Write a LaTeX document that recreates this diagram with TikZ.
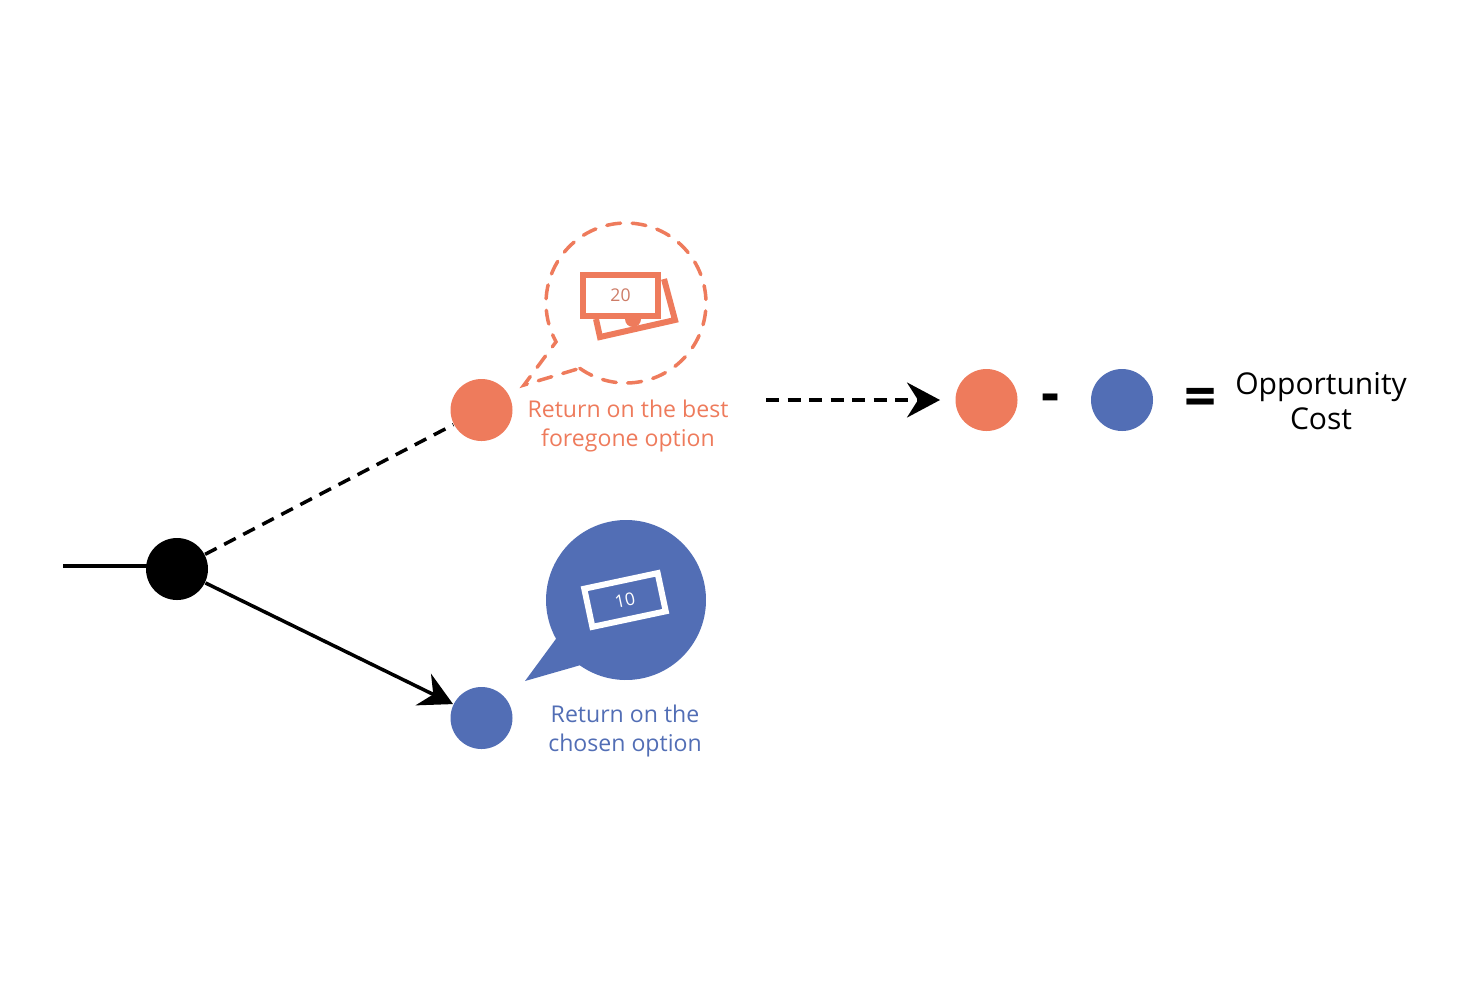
\documentclass[tikz,border=0pt]{standalone}
\usepackage{fontspec}
\setmainfont{Open Sans}
\usetikzlibrary{calc,arrows.meta}

\definecolor{foregone}{HTML}{EE7B5C}
\definecolor{chosen}{HTML}{526EB5}

\tikzset{
    dot/.style={circle,inner sep=0pt,minimum size=0.62cm,fill=#1},
    link/.style={line width=0.035cm,black},
    linkdash/.style={link,dash pattern=on 0.13cm off 0.085cm},
    bigtip/.style={-{Stealth[length=0.33cm,width=0.35cm,inset=0.11cm]}},
    caption/.style={align=center,font=\fontsize{6.57pt}{8pt}\selectfont,text=#1},
}

\begin{document}
\begin{tikzpicture}

    % Fix the page
    \useasboundingbox (0,0) rectangle (14.7,9.8);

    % The decision dot and the two options
    \node[dot=black] (start) at (1.77,4.11) {};
    \node[dot=foregone] (best) at (4.815,5.70) {};
    \node[dot=chosen] (pick) at (4.815,2.62) {};

    % Free ends of the connectors
    \coordinate (lead) at (0.63,4.14);
    \coordinate (resultFrom) at (7.66,5.80);
    \coordinate (resultTo) at (9.40,5.80);

    % Connectors
    \draw[link] (lead) -- (lead -| start);
    \draw[linkdash] (start) -- (best);
    \draw[link,bigtip] (start) -- (pick);
    \draw[linkdash,bigtip] (resultFrom) -- (resultTo);

    % Dashed bubble of the foregone option
    \coordinate (O1) at (6.26,6.77);
    \coordinate (tip1) at (5.24,5.95);
    \draw[foregone,line width=0.035cm,line cap=round,dash pattern=on 0.14cm off 0.115cm]
        ($(O1)+(234.7:0.8)$) arc (234.7:569:0.8) -- (tip1) -- cycle;

    % Bills of the foregone option
    \draw[foregone,line width=0.06cm] (5.96,6.61) -- (6.00,6.43) -- (6.75,6.60) -- (6.64,7.01);
    \fill[foregone] (6.33,6.61) ++(180:0.08) arc (180:360:0.08) -- cycle;
    \node[draw=foregone,line width=0.06cm,fill=white,minimum width=0.75cm,minimum height=0.41cm,inner sep=0pt,
        text=foregone!70!gray,font=\fontsize{5pt}{6pt}\selectfont] (bill20) at (6.205,6.845) {20};

    % Filled bubble of the chosen option
    \coordinate (O2) at (6.26,3.80);
    \coordinate (tip2) at (5.25,2.99);
    \fill[chosen] ($(O2)+(234.7:0.8)$) arc (234.7:569:0.8) -- (tip2) -- cycle;
    \node[draw=white,line width=0.06cm,minimum width=0.75cm,minimum height=0.39cm,inner sep=0pt,rotate=12,
        text=white,font=\fontsize{5pt}{6pt}\selectfont] (bill10) at (6.25,3.80) {10};

    % Captions
    \node[caption=foregone] (bestText) at (6.28,5.54) {Return on the best\\foregone option};
    \node[caption=chosen] (pickText) at (6.25,2.49) {Return on the\\chosen option};

    % The sum
    \node[dot=foregone] (sumBest) at (9.865,5.80) {};
    \node[dot=chosen] (sumPick) at (11.22,5.80) {};
    \node[font=\fontsize{16pt}{16pt}\selectfont\bfseries] (minus) at (10.51,5.77) {-};
    \node[font=\fontsize{16pt}{16pt}\selectfont\bfseries] (equals) at (12.01,5.78) {=};
    \node[align=center,font=\fontsize{8.55pt}{10pt}\selectfont] (cost) at (13.21,5.79) {Opportunity\\Cost};

\end{tikzpicture}
\end{document}
